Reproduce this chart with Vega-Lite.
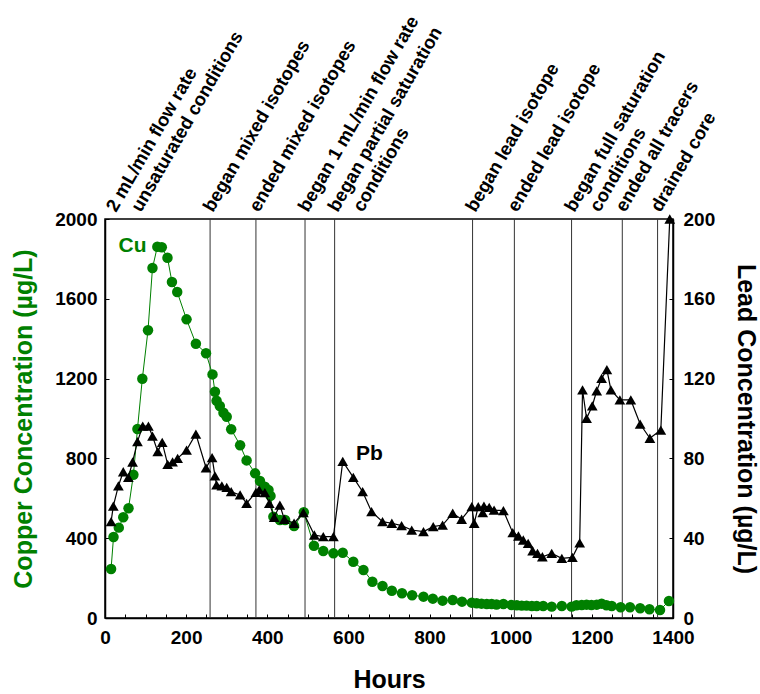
{
  "$schema": "https://vega.github.io/schema/vega-lite/v6.json",
  "width": 568,
  "height": 399,
  "autosize": {"type": "none"},
  "padding": {"left": 105, "top": 219, "right": 87, "bottom": 76},
  "background": "white",
  "config": {
    "view": {"stroke": "black", "strokeWidth": 1.5},
    "font": "Liberation Sans",
    "axis": {
      "labelFont": "Liberation Sans",
      "labelFontWeight": "bold",
      "labelFontSize": 19,
      "labelColor": "black",
      "titleFont": "Liberation Sans",
      "titleFontWeight": "bold",
      "titleFontSize": 25,
      "titleColor": "black",
      "domainColor": "black",
      "domainWidth": 1.5,
      "tickColor": "black",
      "tickSize": -4,
      "tickWidth": 1,
      "grid": false
    }
  },
  "datasets": {
    "copper": [
      {"hour": 15, "cu": 246}, {"hour": 21, "cu": 406}, {"hour": 34, "cu": 453}, {"hour": 45, "cu": 505},
      {"hour": 58, "cu": 550}, {"hour": 70, "cu": 718}, {"hour": 80, "cu": 947}, {"hour": 92, "cu": 1199},
      {"hour": 106, "cu": 1442}, {"hour": 117, "cu": 1754}, {"hour": 129, "cu": 1861}, {"hour": 140, "cu": 1858},
      {"hour": 154, "cu": 1806}, {"hour": 165, "cu": 1684}, {"hour": 178, "cu": 1634}, {"hour": 201, "cu": 1497},
      {"hour": 224, "cu": 1375}, {"hour": 249, "cu": 1327}, {"hour": 265, "cu": 1221}, {"hour": 271, "cu": 1134},
      {"hour": 275, "cu": 1089}, {"hour": 283, "cu": 1063}, {"hour": 292, "cu": 1029}, {"hour": 300, "cu": 1009},
      {"hour": 311, "cu": 946}, {"hour": 333, "cu": 866}, {"hour": 349, "cu": 790}, {"hour": 370, "cu": 725},
      {"hour": 382, "cu": 687}, {"hour": 394, "cu": 658}, {"hour": 403, "cu": 642}, {"hour": 408, "cu": 612},
      {"hour": 415, "cu": 508}, {"hour": 431, "cu": 491}, {"hour": 444, "cu": 491}, {"hour": 466, "cu": 461},
      {"hour": 490, "cu": 530}, {"hour": 515, "cu": 362}, {"hour": 538, "cu": 336}, {"hour": 563, "cu": 324},
      {"hour": 586, "cu": 327}, {"hour": 612, "cu": 282}, {"hour": 637, "cu": 241}, {"hour": 659, "cu": 182},
      {"hour": 684, "cu": 160}, {"hour": 707, "cu": 137}, {"hour": 732, "cu": 124}, {"hour": 757, "cu": 114},
      {"hour": 785, "cu": 107}, {"hour": 808, "cu": 97}, {"hour": 832, "cu": 87}, {"hour": 857, "cu": 90},
      {"hour": 880, "cu": 82}, {"hour": 904, "cu": 77}, {"hour": 916, "cu": 74}, {"hour": 928, "cu": 72},
      {"hour": 941, "cu": 70}, {"hour": 953, "cu": 70}, {"hour": 965, "cu": 68}, {"hour": 982, "cu": 70},
      {"hour": 1002, "cu": 65}, {"hour": 1015, "cu": 64}, {"hour": 1027, "cu": 62}, {"hour": 1039, "cu": 62},
      {"hour": 1052, "cu": 60}, {"hour": 1064, "cu": 60}, {"hour": 1080, "cu": 60}, {"hour": 1101, "cu": 57},
      {"hour": 1126, "cu": 60}, {"hour": 1150, "cu": 57}, {"hour": 1162, "cu": 64}, {"hour": 1175, "cu": 65},
      {"hour": 1187, "cu": 67}, {"hour": 1199, "cu": 65}, {"hour": 1212, "cu": 67}, {"hour": 1224, "cu": 72},
      {"hour": 1236, "cu": 64}, {"hour": 1249, "cu": 60}, {"hour": 1271, "cu": 54}, {"hour": 1294, "cu": 54},
      {"hour": 1319, "cu": 49}, {"hour": 1342, "cu": 44}, {"hour": 1368, "cu": 40}, {"hour": 1390, "cu": 85}
    ],
    "lead": [
      {"hour": 15, "pb": 48.3}, {"hour": 20.5, "pb": 56.1}, {"hour": 33, "pb": 66.2}, {"hour": 45, "pb": 73.3},
      {"hour": 57.5, "pb": 70.5}, {"hour": 68, "pb": 78.2}, {"hour": 80, "pb": 88.4}, {"hour": 93, "pb": 96.2},
      {"hour": 107, "pb": 96.2}, {"hour": 117, "pb": 91.2}, {"hour": 130, "pb": 83.4}, {"hour": 141, "pb": 88},
      {"hour": 154.5, "pb": 77}, {"hour": 166.5, "pb": 78.3}, {"hour": 179, "pb": 80}, {"hour": 201, "pb": 84.2},
      {"hour": 224, "pb": 92.2}, {"hour": 249, "pb": 75.3}, {"hour": 264, "pb": 80.4}, {"hour": 271, "pb": 71.2},
      {"hour": 275, "pb": 66.7}, {"hour": 288, "pb": 66.2}, {"hour": 300, "pb": 65.5}, {"hour": 311, "pb": 63.3},
      {"hour": 333, "pb": 61.7}, {"hour": 349, "pb": 57.5}, {"hour": 372, "pb": 63}, {"hour": 380, "pb": 64.2},
      {"hour": 394, "pb": 62.8}, {"hour": 405, "pb": 57.5}, {"hour": 417, "pb": 50.5}, {"hour": 431, "pb": 56.6},
      {"hour": 442, "pb": 49.5}, {"hour": 466, "pb": 47.5}, {"hour": 489, "pb": 52.8}, {"hour": 516, "pb": 41.6},
      {"hour": 538, "pb": 40.8}, {"hour": 563, "pb": 40.8}, {"hour": 586, "pb": 78.5}, {"hour": 612, "pb": 70.5},
      {"hour": 635, "pb": 63.3}, {"hour": 657, "pb": 53.3}, {"hour": 684, "pb": 48.3}, {"hour": 707, "pb": 47.5},
      {"hour": 731, "pb": 46.3}, {"hour": 756, "pb": 44.1}, {"hour": 785, "pb": 43.3}, {"hour": 809, "pb": 45.8},
      {"hour": 832, "pb": 46.6}, {"hour": 857, "pb": 52.5}, {"hour": 879, "pb": 49.5}, {"hour": 904, "pb": 55.8},
      {"hour": 910, "pb": 47.5}, {"hour": 920, "pb": 55.8}, {"hour": 931, "pb": 52.8}, {"hour": 934, "pb": 56.1},
      {"hour": 947, "pb": 55.5}, {"hour": 959, "pb": 54.1}, {"hour": 982, "pb": 53.8}, {"hour": 1005, "pb": 42.8},
      {"hour": 1019, "pb": 41.1}, {"hour": 1031, "pb": 39.1}, {"hour": 1043, "pb": 37.4}, {"hour": 1054, "pb": 33.7},
      {"hour": 1066, "pb": 32.4}, {"hour": 1078, "pb": 30.7}, {"hour": 1101, "pb": 32.4}, {"hour": 1126, "pb": 29.9},
      {"hour": 1152, "pb": 30.4}, {"hour": 1170, "pb": 37.7}, {"hour": 1177, "pb": 114.3}, {"hour": 1187, "pb": 100.1},
      {"hour": 1201, "pb": 106.3}, {"hour": 1212, "pb": 113.9}, {"hour": 1224, "pb": 120.1}, {"hour": 1237, "pb": 124.5},
      {"hour": 1247, "pb": 114.3}, {"hour": 1269, "pb": 109.3}, {"hour": 1296, "pb": 109.3}, {"hour": 1319, "pb": 97.2},
      {"hour": 1343, "pb": 90.1}, {"hour": 1370, "pb": 94.2}, {"hour": 1392, "pb": 200}
    ],
    "events": [
      {"hour": 20, "line1": "2 mL/min flow rate", "line2": "unsaturated conditions", "rule": false},
      {"hour": 259, "line1": "began mixed isotopes", "line2": "", "rule": true},
      {"hour": 372, "line1": "ended mixed isotopes", "line2": "", "rule": true},
      {"hour": 493, "line1": "began 1 mL/min flow rate", "line2": "", "rule": true},
      {"hour": 566, "line1": "began partial saturation", "line2": "conditions", "rule": true},
      {"hour": 906, "line1": "began lead isotope", "line2": "", "rule": true},
      {"hour": 1009, "line1": "ended lead isotope", "line2": "", "rule": true},
      {"hour": 1150, "line1": "began full saturation", "line2": "conditions", "rule": true},
      {"hour": 1275, "line1": "ended all tracers", "line2": "", "rule": true},
      {"hour": 1362, "line1": "drained core", "line2": "", "rule": true}
    ],
    "serieslabels": [
      {"name": "Cu", "hour": 68, "value": 1867},
      {"name": "Pb", "hour": 652, "value": 82}
    ]
  },
  "encoding": {
    "x": {
      "field": "hour", "type": "quantitative",
      "scale": {"domain": [0, 1400], "nice": false, "zero": false},
      "axis": {
        "title": "Hours",
        "values": [0,50,100,150,200,250,300,350,400,450,500,550,600,650,700,750,800,850,900,950,1000,1050,1100,1150,1200,1250,1300,1350,1400],
        "labelExpr": "datum.value % 200 === 0 ? datum.label : ''",
        "format": "d",
        "labelPadding": 14,
        "titlePadding": 20,
        "labelFlush": false,
        "labelOverlap": false
      }
    }
  },
  "layer": [
    {
      "layer": [
        {
          "data": {"name": "events"},
          "transform": [{"filter": "datum.rule"}],
          "mark": {"type": "rule", "color": "#333333", "strokeWidth": 1},
          "encoding": {}
        },
        {
          "data": {"name": "copper"},
          "mark": {"type": "line", "color": "#008000", "strokeWidth": 1},
          "encoding": {
            "y": {
              "field": "cu", "type": "quantitative",
              "scale": {"domain": [0, 2000], "nice": false},
              "axis": {
                "orient": "left",
                "title": "Copper Concentration (µg/L)",
                "titleColor": "#008000",
                "values": [0,200,400,600,800,1000,1200,1400,1600,1800,2000],
                "format": "d",
                "labelPadding": 12,
                "titlePadding": 18,
                "labelFlush": false
              }
            }
          }
        },
        {
          "data": {"name": "copper"},
          "mark": {"type": "point", "shape": "circle", "filled": true, "opacity": 1, "color": "#008000", "size": 110},
          "encoding": {
            "y": {"field": "cu", "type": "quantitative"}
          }
        },
        {
          "data": {"name": "events"},
          "mark": {"type": "text", "align": "left", "baseline": "alphabetic", "angle": -60, "dx": 6.7, "dy": -0.4, "fontSize": 18.5, "fontWeight": "bold", "font": "Liberation Sans", "color": "black"},
          "encoding": {
            "y": {"datum": 2000},
            "text": {"field": "line1"}
          }
        },
        {
          "data": {"name": "events"},
          "transform": [{"filter": "datum.line2 !== ''"}],
          "mark": {"type": "text", "align": "left", "baseline": "alphabetic", "angle": -60, "dx": 19.2, "dy": 21.25, "fontSize": 18.5, "fontWeight": "bold", "font": "Liberation Sans", "color": "black"},
          "encoding": {
            "y": {"datum": 2000},
            "text": {"field": "line2"}
          }
        },
        {
          "data": {"name": "serieslabels"},
          "transform": [{"filter": "datum.name === 'Cu'"}],
          "mark": {"type": "text", "align": "center", "baseline": "middle", "fontSize": 21, "fontWeight": "bold", "font": "Liberation Sans", "color": "#008000"},
          "encoding": {
            "y": {"field": "value", "type": "quantitative"},
            "text": {"field": "name"}
          }
        }
      ]
    },
    {
      "layer": [
        {
          "data": {"name": "lead"},
          "mark": {"type": "line", "color": "black", "strokeWidth": 1.2},
          "encoding": {
            "y": {
              "field": "pb", "type": "quantitative",
              "scale": {"domain": [0, 200], "nice": false},
              "axis": {
                "orient": "right",
                "title": "Lead Concentration (µg/L)",
                "values": [0,20,40,60,80,100,120,140,160,180,200],
                "format": "d",
                "labelPadding": 14,
                "titlePadding": 18,
                "labelFlush": false
              }
            }
          }
        },
        {
          "data": {"name": "lead"},
          "mark": {"type": "point", "shape": "triangle-up", "filled": true, "opacity": 1, "color": "black", "size": 115},
          "encoding": {
            "y": {"field": "pb", "type": "quantitative"}
          }
        },
        {
          "data": {"name": "serieslabels"},
          "transform": [{"filter": "datum.name === 'Pb'"}],
          "mark": {"type": "text", "align": "center", "baseline": "middle", "fontSize": 21, "fontWeight": "bold", "font": "Liberation Sans", "color": "black"},
          "encoding": {
            "y": {"field": "value", "type": "quantitative"},
            "text": {"field": "name"}
          }
        }
      ]
    }
  ],
  "resolve": {"scale": {"y": "independent"}}
}
